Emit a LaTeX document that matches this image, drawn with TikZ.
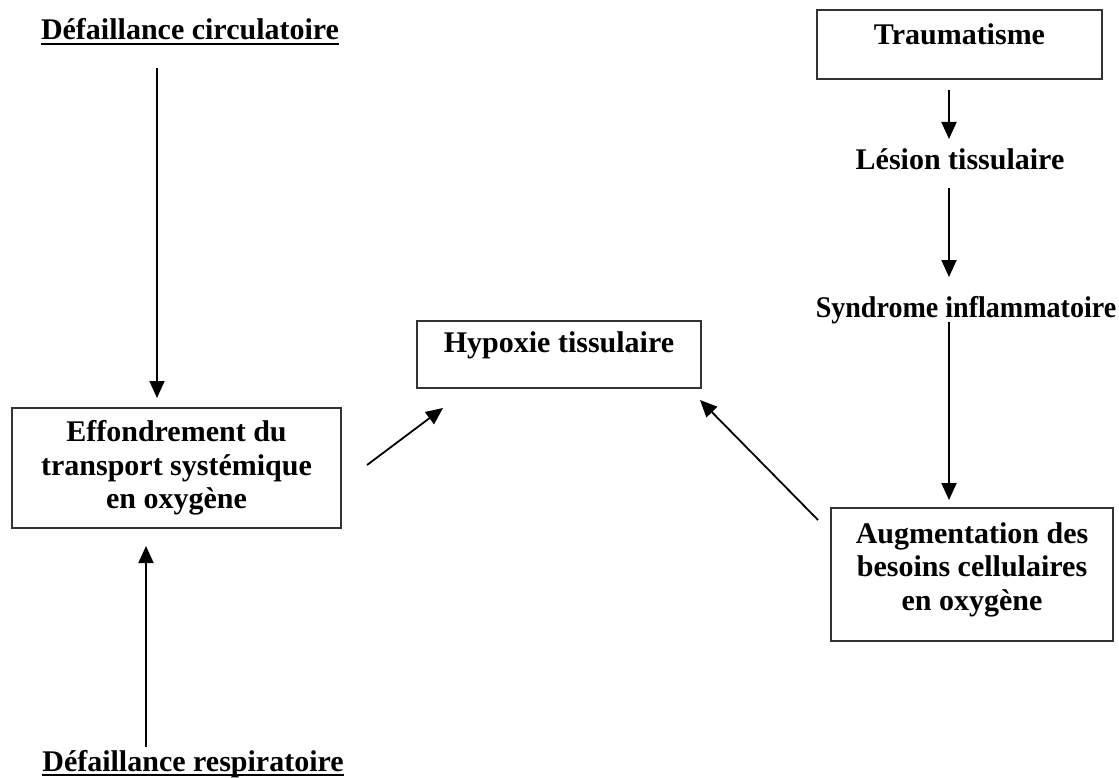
\documentclass[tikz,border=0pt]{standalone}
\usepackage{fontspec}
\usepackage{graphicx}
\setmainfont{Liberation Serif}
\usetikzlibrary{arrows.meta}
\begin{document}
\begin{tikzpicture}[x=1pt,y=-1pt,
  txt/.style={font=\fontsize{30}{33.5}\selectfont\bfseries, inner sep=0pt, align=center},
  box/.style={txt, draw=black!80, line width=1.6pt, rectangle},
  arr/.style={line width=1.8pt, -{Triangle[length=17pt,width=15pt]}},
  uline/.style={line width=1.8pt}]
  % canvas
  \fill[white] (0,0) rectangle (1119,778);
  \useasboundingbox (0,0) rectangle (1119,778);

  % left column
  \node[txt, anchor=base] (circ) at (190,40) {Défaillance circulatoire};
  \node[txt, anchor=base] (resp) at (193,771) {Défaillance respiratoire};
  \draw[uline] ([yshift=-4pt]circ.base west) -- ([yshift=-4pt]circ.base east);
  \draw[uline] ([yshift=-4pt]resp.base west) -- ([yshift=-4pt]resp.base east);
  \node[box, minimum width=329pt, minimum height=120pt] (eff) at (176.5,468)
    {Effondrement du\\transport systémique\\en oxygène};

  % centre
  \node[box, anchor=base, minimum width=284pt, text height=31pt, text depth=36pt]
    (hyp) at (559,352) {Hypoxie tissulaire};

  % right column
  \node[box, anchor=base, minimum width=285pt, text height=35pt, text depth=34pt]
    (trauma) at (959.5,45) {Traumatisme};
  \node[txt, anchor=base] (lesion) at (960,170) {Lésion tissulaire};
  \node[txt, anchor=base] (synd) at (966,317)
    {\scalebox{0.935}[1]{Syndrome inflammatoire}};
  \node[box, minimum width=282pt, minimum height=133pt] (aug) at (972,574.5)
    {Augmentation des\\besoins cellulaires\\en oxygène\rule[-16pt]{0pt}{1pt}};

  % arrow end points
  \coordinate (circS) at (157,68);   \coordinate (effN) at (157,398);
  \coordinate (respN) at (146,747);  \coordinate (effS) at (146,546);
  \coordinate (effE) at (367,465);   \coordinate (hypW) at (443,408);
  \coordinate (augW) at (818,520);   \coordinate (hypE) at (700,400);
  \coordinate (traS) at (949,90);    \coordinate (lesN) at (949,139);
  \coordinate (lesS) at (949,188);   \coordinate (synN) at (949,277);
  \coordinate (synS) at (949,322);   \coordinate (augN) at (949,500);

  % connectors
  \draw[arr] (circS) -- (effN);
  \draw[arr] (respN) -- (effS);
  \draw[arr] (effE) -- (hypW);
  \draw[arr] (augW) -- (hypE);
  \draw[arr] (traS) -- (lesN);
  \draw[arr] (lesS) -- (synN);
  \draw[arr] (synS) -- (augN);
\end{tikzpicture}
\end{document}
